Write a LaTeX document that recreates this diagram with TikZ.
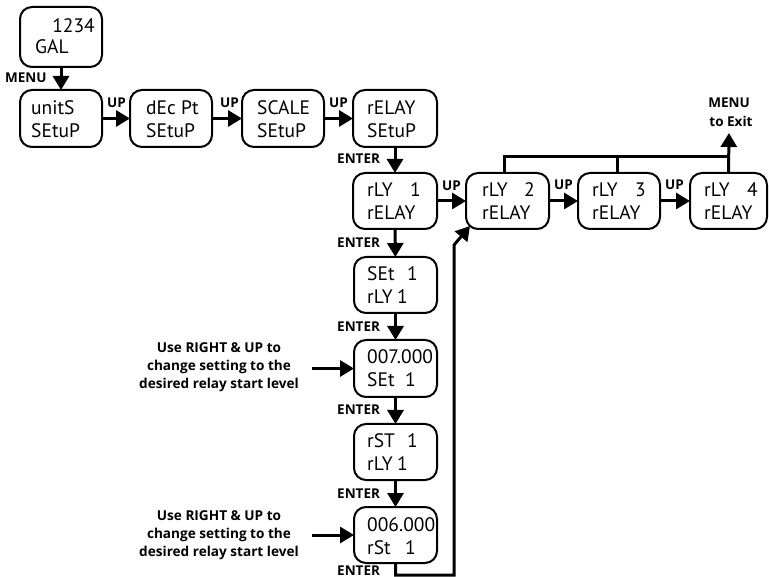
\documentclass[tikz,border=0pt]{standalone}
\usepackage{fontspec}
\setmainfont{PT Sans}
\newfontfamily\lblfont{Open Sans}
\usetikzlibrary{arrows.meta}
\newcommand\dbox[5]{%
  \node[dbx, minimum width={#4-#2}, minimum height={#5-#3}] (#1) at ({(#2+#4)/2},{(#3+#5)/2}) {};}
\begin{document}
\begin{tikzpicture}[x=1pt,y=-1pt,
  dbx/.style={draw, line width=2pt, rounded corners=12pt, inner sep=0pt, outer sep=0pt},
  dt/.style={font=\fontsize{19.5}{22}\selectfont, inner sep=0pt, anchor=base west},
  dn/.style={font=\fontsize{19.5}{22}\selectfont, inner sep=0pt, anchor=base east},
  lb/.style={font=\lblfont\bfseries\fontsize{13.5}{16}\selectfont, inner sep=0pt, anchor=base west},
  nt/.style={font=\lblfont\bfseries\fontsize{13.6}{18}\selectfont, inner sep=0pt, anchor=base},
  arr/.style={line width=3pt, -{Triangle[width=16pt,length=14pt]}},
  ln/.style={line width=3pt}]
\useasboundingbox (0,0) rectangle (769,577);
% boxes
\dbox{top}{20}{7}{102}{67}
\dbox{units}{20}{90}{102}{147}
\dbox{dec}{130}{90}{212}{147}
\dbox{scale}{242}{90}{324}{147}
\dbox{relay}{353}{90}{437}{147}
\dbox{rly1}{353}{173}{437}{229}
\dbox{rly2}{466}{173}{549}{229}
\dbox{rly3}{578}{173}{660}{229}
\dbox{rly4}{690}{173}{767}{229}
\dbox{set1}{354}{257}{437}{313}
\dbox{v007}{354}{340}{437}{397}
\dbox{rst1}{354}{424}{437}{480}
\dbox{v006}{354}{507}{437}{563}
% box texts
\node[dn] (t1) at (95,33) {1234};
\node[dt] (t2) at (35,54) {GAL};
\node[dt] (u1) at (31,115) {unitS};
\node[dt] (u2) at (31,138) {SEtuP};
\node[dt] (d1) at (146,115) {dEc Pt};
\node[dt] (d2) at (146,138) {SEtuP};
\node[dt] (s1) at (257,115) {SCALE};
\node[dt] (s2) at (257,138) {SEtuP};
\node[dt] (r1) at (367,115) {rELAY};
\node[dt] (r2) at (367,138) {SEtuP};
\node[dt] (a1) at (367,197) {rLY};
\node[dn] (a1n) at (421,197) {1};
\node[dt] (a2) at (367,220) {rELAY};
\node[dt] (b1) at (482,197) {rLY};
\node[dn] (b1n) at (535,197) {2};
\node[dt] (b2) at (482,220) {rELAY};
\node[dt] (c1) at (592,197) {rLY};
\node[dn] (c1n) at (646,197) {3};
\node[dt] (c2) at (592,220) {rELAY};
\node[dt] (e1) at (704,197) {rLY};
\node[dn] (e1n) at (758,197) {4};
\node[dt] (e2) at (704,220) {rELAY};
\node[dt] (f1) at (367,281) {SEt};
\node[dn] (f1n) at (418,281) {1};
\node[dt] (f2) at (367,304) {rLY};
\node[dn] (f2n) at (408,304) {1};
\node[dt] (g1) at (367,364) {007.000};
\node[dt] (g2) at (367,387) {SEt};
\node[dn] (g2n) at (416,387) {1};
\node[dt] (h1) at (367,448) {rST};
\node[dn] (h1n) at (418,448) {1};
\node[dt] (h2) at (367,471) {rLY};
\node[dn] (h2n) at (408,471) {1};
\node[dt] (k1) at (367,531) {006.000};
\node[dt] (k2) at (367,554) {rSt};
\node[dn] (k2n) at (416,554) {1};
% arrows
\draw[arr] (top) -- (units);
\draw[arr] (units) -- (dec);
\draw[arr] (dec) -- (scale);
\draw[arr] (scale) -- (relay);
\draw[arr] (relay) -- (rly1);
\draw[arr] (rly1) -- (rly2);
\draw[arr] (rly2) -- (rly3);
\draw[arr] (rly3) -- (rly4);
\draw[arr] (rly1) -- (set1);
\draw[arr] (set1) -- (v007);
\draw[arr] (v007) -- (rst1);
\draw[arr] (rst1) -- (v006);
% exit
\coordinate (jn) at (729,157);
\coordinate (exit) at (729,133);
\draw[ln] ([xshift=-3pt]rly2.north) |- (jn);
\draw[ln] ([xshift=-2pt]rly3.north) -- ([xshift=-2pt]rly3.north |- jn);
\draw[arr] (rly4.north) -- (exit);
\node[lb, anchor=base] (mx1) at (729,108) {MENU};
\node[lb, anchor=base] (mx2) at (731,127) {to Exit};
% return
\coordinate (bend) at (454,245);
\draw[arr] (v006.south) -- ++(0,12) -| (bend) -- ([shift={(4pt,3pt)}]rly2.south west);
% labels
\node[lb] (menu) at (5,83) {MENU};
\node[lb] (up1) at (107,108) {UP};
\node[lb] (up2) at (220,108) {UP};
\node[lb] (up3) at (329,108) {UP};
\node[lb] (up4) at (442,191) {UP};
\node[lb] (up5) at (554,190) {UP};
\node[lb] (up6) at (665,190) {UP};
\node[lb] (en1) at (337,164) {ENTER};
\node[lb] (en2) at (337,248) {ENTER};
\node[lb] (en3) at (337,332) {ENTER};
\node[lb] (en4) at (337,415) {ENTER};
\node[lb] (en5) at (337,498) {ENTER};
\node[lb] (en6) at (337,575) {ENTER};
% notes
\node[nt] (n1a) at (219,353) {Use RIGHT \& UP to};
\node[nt] (n1b) at (219,371) {change setting to the};
\node[nt] (n1c) at (219,389) {desired relay start level};
\node[nt] (n2a) at (219,520) {Use RIGHT \& UP to};
\node[nt] (n2b) at (219,538) {change setting to the};
\node[nt] (n2c) at (219,556) {desired relay start level};
\draw[arr] ([xshift=-42pt]v007.west) -- (v007.west);
\draw[arr] ([xshift=-42pt]v006.west) -- (v006.west);
\end{tikzpicture}
\end{document}
